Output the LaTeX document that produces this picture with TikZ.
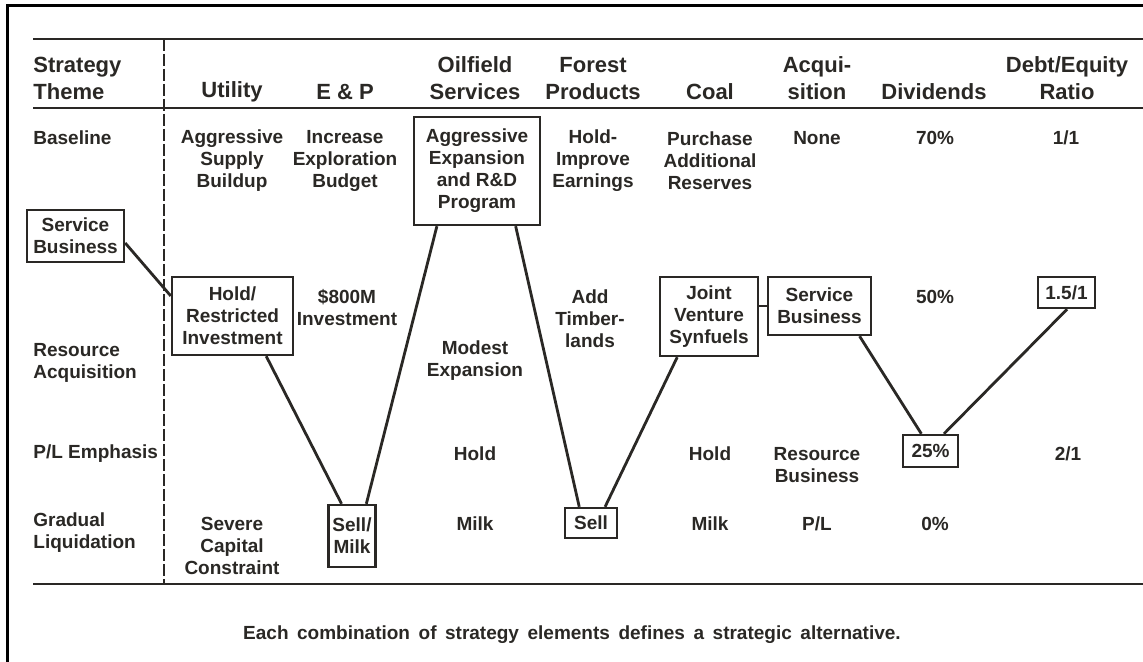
\documentclass[tikz,border=0pt]{standalone}
\usepackage{fontspec}
\setmainfont{Liberation Sans}
\definecolor{ink}{RGB}{42,40,37}
\begin{document}
\begin{tikzpicture}[x=0.5pt,y=-0.5pt,
  head/.style={font=\fontsize{11}{13.5}\selectfont\bfseries, align=center, inner sep=0pt, text=ink, yshift=-0.8pt},
  cell/.style={font=\fontsize{9.5}{11}\selectfont\bfseries, align=center, inner sep=0pt, text=ink, yshift=-1pt},
  rowlabel/.style={cell, align=left, anchor=west},
  headlabel/.style={head, align=left, anchor=west},
  choice/.style 2 args={cell, yshift=1pt, draw=ink, line width=1.2pt, minimum width=#1, minimum height=#2},
  rule/.style={draw=ink, line width=1.3pt},
  link/.style={draw=ink, line width=1.4pt}]

% page and frame
\useasboundingbox[fill=white] (0,0) rectangle (1143,662);
\draw[line width=1.5pt] (7.5,662) -- (7.5,5.5) -- (1143,5.5);

% table rules
\draw[rule] (33,39) -- (1143,39);
\draw[rule] (33,108) -- (1143,108);
\draw[rule] (33,584) -- (1143,584);
\draw[draw=ink, line width=1pt, dash pattern=on 6pt off 1.5pt] (164,39) -- (164,584);

% column heads
\node[headlabel] (hTheme) at (33,76.5) {Strategy\\Theme};
\node[head] (hUtil) at (232,90) {Utility};
\node[head] (hEP) at (345,90) {E \& P};
\node[head] (hOil) at (475,76.5) {Oilfield\\Services};
\node[head] (hFor) at (593,76.5) {Forest\\Products};
\node[head] (hCoal) at (710,90) {Coal};
\node[head] (hAcq) at (817,76.5) {Acqui-\\sition};
\node[head] (hDiv) at (934,90) {Dividends};
\node[head] (hDE) at (1067,76.5) {Debt/Equity\\Ratio};

% row labels
\node[rowlabel] (lBase) at (33,136) {Baseline};
\node[choice={48.5pt}{26pt}] (sbL) at (75.5,236) {Service\\Business};
\node[rowlabel] (lRes) at (33,361) {Resource\\Acquisition};
\node[rowlabel] (lPL) at (33,452) {P/L Emphasis};
\node[rowlabel] (lGL) at (33,531) {Gradual\\Liquidation};

% baseline row
\node[cell] (u1) at (232,158.5) {Aggressive\\Supply\\Buildup};
\node[cell] (e1) at (345,158.5) {Increase\\Exploration\\Budget};
\node[choice={63pt}{54pt}] (oil) at (477,171) {Aggressive\\Expansion\\and R\&D\\Program};
\node[cell] (f1) at (593,158.5) {Hold-\\Improve\\Earnings};
\node[cell] (c1) at (710,158.5) {Purchase\\Additional\\Reserves};
\node[cell] (a1) at (817,136) {None};
\node[cell] (d1) at (935,136) {70\%};
\node[cell] (r1) at (1066,136) {1/1};

% second row
\node[choice={60.5pt}{39pt}] (hold) at (232.5,316) {Hold/\\Restricted\\Investment};
\node[cell] (e2) at (347,306) {\$800M\\Investment};
\node[cell] (f2) at (590,317) {Add\\Timber-\\lands};
\node[choice={49pt}{39.5pt}] (jv) at (709,316.5) {Joint\\Venture\\Synfuels};
\node[choice={51.5pt}{29pt}] (sbA) at (819.5,306) {Service\\Business};
\node[cell] (d2) at (935,295) {50\%};
\node[choice={28.5pt}{15.5pt}] (r15) at (1066.5,292.5) {1.5/1};

% resource acquisition row
\node[cell] (o3) at (475,358.5) {Modest\\Expansion};

% P/L emphasis row
\node[cell] (o4) at (475,452) {Hold};
\node[cell] (c4) at (710,452) {Hold};
\node[cell] (a4) at (817,463.5) {Resource\\Business};
\node[choice={27.5pt}{16pt}] (p25) at (930.5,451) {25\%};
\node[cell] (r4) at (1068,452) {2/1};

% gradual liquidation row
\node[cell] (u5) at (232,544) {Severe\\Capital\\Constraint};
\node[choice={23.5pt}{31pt}] (sm) at (352,536) {Sell/\\Milk};
\node[cell] (o5) at (475,522) {Milk};
\node[choice={26pt}{15pt}] (sell) at (591,523) {Sell};
\node[cell] (c5) at (710,522) {Milk};
\node[cell] (a5) at (817,522) {P/L};
\node[cell] (d5) at (935,522) {0\%};

% the chosen path through the elements
\draw[link] (sbL.-8) -- (hold.162);
\draw[link] (hold.-50) -- (sm.108);
\draw[link] (sm.66) -- (oil.-126);
\draw[link] (oil.-55) -- (sell.126);
\draw[link] (sell.49) -- (jv.-128);
\draw[link] (sbA.west) -- (sbA.west -| jv.east);
\draw[link] (sbA.-37) -- (p25.118);
\draw[link] (p25.52) -- (r15.-88);

% caption
\node[cell] (note) at (572,633) {\spaceskip=0.45em\relax Each combination of strategy elements defines a strategic alternative.};
\end{tikzpicture}
\end{document}
